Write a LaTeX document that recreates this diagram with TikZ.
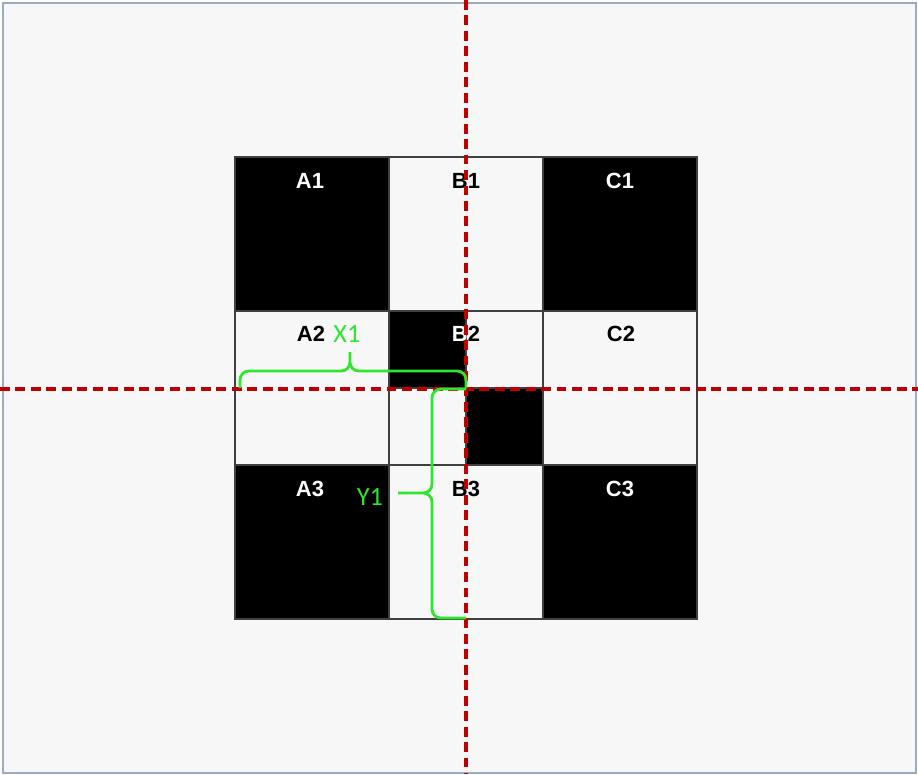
\documentclass[tikz,border=0pt]{standalone}
\usepackage{fontspec}
\setmainfont{Liberation Sans}
\newfontfamily\calib{Carlito}
\usetikzlibrary{positioning}
\definecolor{frame}{HTML}{9AAAC8}
\definecolor{paper}{HTML}{F7F7F7}
\definecolor{axisred}{HTML}{C00000}
\definecolor{bracegreen}{HTML}{2EE62E}
\definecolor{cellrule}{HTML}{404040}

\begin{document}
\begin{tikzpicture}[x=0.02cm,y=-0.02cm,
  cell/.style={draw=cellrule,line width=0.9pt},
  tag/.style={font=\bfseries\fontsize{12.5}{12.5}\selectfont},
  axis/.style={axisred,line width=1.9pt,dash pattern=on 5.6pt off 3.2pt},
  bracepen/.style={bracegreen,line width=1.6pt,rounded corners=5pt},
  bracetag/.style={text=bracegreen,font=\calib\fontsize{15}{15}\selectfont}]
  \useasboundingbox (0,0) rectangle (918,774);
  \fill[white] (0,0) rectangle (918,774);
  \draw[fill=paper,draw=frame,line width=0.8pt] (3,3) rectangle (916,773);
  % board: 3x3 cells, corners dark
  \foreach \x in {235,389,543}{\foreach \y in {157,311,465}{
    \draw[cell,fill=paper] (\x,\y) rectangle ++(153.7,153.7);}}
  \foreach \x/\y in {235/157,543/157,235/465,543/465}{
    \draw[cell,fill=black] (\x,\y) rectangle ++(153.7,153.7);}
  % B2 split in quarters
  \draw[cell,fill=black] (389,311) rectangle (466,388);
  \draw[cell,fill=black] (466,388) rectangle (543,465);
  \draw[cell] (389,388) rectangle (466,465);
  % cell tags
  \node[tag,text=white] (A1) at (310,181) {A1};
  \node[tag] (B1) at (466,181) {B1};
  \node[tag,text=white] (C1) at (620,181) {C1};
  \node[tag] (A2) at (311,334) {A2};
  \node[tag] (B2) at (466,334) {B2};
  \begin{scope}
    \clip (389,311) rectangle (466,388);
    \node[tag,text=white] (B2w) at (466,334) {B2};
  \end{scope}
  \node[tag] (C2) at (621,334) {C2};
  \node[tag,text=white] (A3) at (310,489) {A3};
  \node[tag] (B3) at (466,489) {B3};
  \node[tag,text=white] (C3) at (620,489) {C3};
  % dashed axes
  \draw[axis] (466,0) -- (466,774);
  \draw[axis] (0,389) -- (918,389);
  % braces
  \draw[bracepen] (240,388) -- (240,371) -- (350,371) -- (350,352)
    (350,352) -- (350,371) -- (466,371) -- (466,388);
  \draw[bracepen] (466,389) -- (432,389) -- (432,493) -- (398,493)
    (398,493) -- (432,493) -- (432,618) -- (466,618);
  \node[bracetag] (X1) at (347,334) {X1};
  \node[bracetag] (Y1) at (370,497) {Y1};
\end{tikzpicture}
\end{document}
